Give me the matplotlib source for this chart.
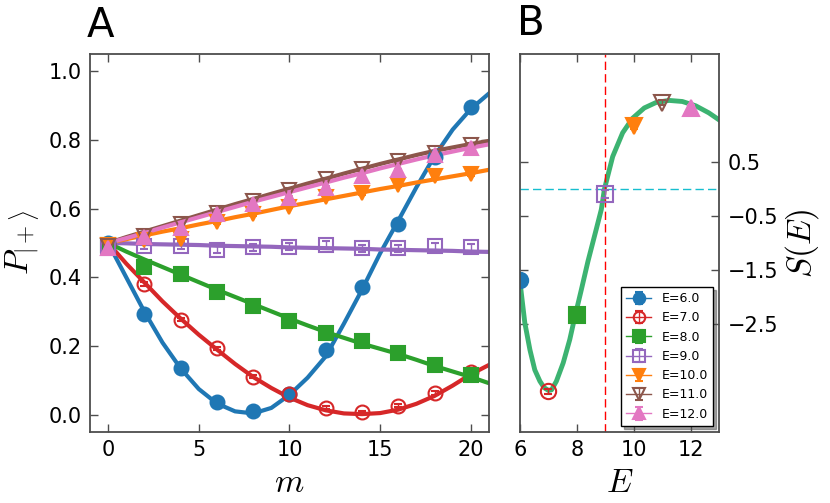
import numpy as np
import matplotlib
matplotlib.use('Agg')
import matplotlib.pyplot as plt

plt.rcParams['mathtext.fontset'] = 'cm'
plt.rcParams['font.family'] = ['DejaVu Sans']

# series settings, one entry per energy
energies = [6.0, 7.0, 8.0, 9.0, 10.0, 11.0, 12.0]
colors = ['#1f77b4', '#d62728', '#2ca02c', '#9467bd', '#ff7f0e', '#8c564b', '#e377c2']
markers = ['o', 'o', 's', 's', 'v', 'v', '^']
filled = [True, False, True, False, True, False, True]

# Panel A: theory curves P(m) read at integer m
m_fine = list(range(22))
curve_6 = [0.50, 0.40, 0.30, 0.21, 0.135, 0.075, 0.033, 0.01, 0.004, 0.02, 0.058,
           0.108, 0.17, 0.265, 0.364, 0.47, 0.565, 0.662, 0.753, 0.83, 0.89, 0.935]
curve_7 = [0.50, 0.44, 0.385, 0.33, 0.28, 0.233, 0.19, 0.148, 0.11, 0.078, 0.05,
           0.028, 0.013, 0.004, 0.002, 0.005, 0.015, 0.032, 0.055, 0.085, 0.118, 0.145]
curve_8 = [0.50, 0.475, 0.452, 0.43, 0.408, 0.386, 0.364, 0.343, 0.322, 0.301, 0.28,
           0.26, 0.241, 0.224, 0.207, 0.192, 0.177, 0.16, 0.142, 0.126, 0.11, 0.092]
curve_9 = [0.500, 0.499, 0.497, 0.496, 0.495, 0.494, 0.492, 0.491, 0.490, 0.489, 0.487,
           0.486, 0.485, 0.484, 0.483, 0.481, 0.480, 0.479, 0.478, 0.477, 0.475, 0.474]
curve_10 = [0.50, 0.511, 0.522, 0.533, 0.543, 0.554, 0.564, 0.575, 0.585, 0.596, 0.607,
            0.617, 0.627, 0.637, 0.647, 0.657, 0.666, 0.676, 0.685, 0.694, 0.703, 0.713]
curve_11 = [0.50, 0.517, 0.533, 0.549, 0.565, 0.581, 0.597, 0.613, 0.628, 0.643, 0.658,
            0.673, 0.687, 0.702, 0.716, 0.73, 0.743, 0.756, 0.768, 0.778, 0.788, 0.797]
curve_12 = [0.50, 0.514, 0.529, 0.545, 0.56, 0.575, 0.59, 0.605, 0.62, 0.634, 0.648,
            0.662, 0.676, 0.69, 0.703, 0.717, 0.73, 0.743, 0.755, 0.766, 0.777, 0.787]

# Panel A: measured points
m_pts = [0, 2, 4, 6, 8, 10, 12, 14, 16, 18, 20]
pts_6 = [0.50, 0.292, 0.135, 0.038, 0.01, 0.061, 0.188, 0.372, 0.555, 0.75, 0.897]
pts_7 = [0.495, 0.381, 0.277, 0.193, 0.111, 0.06, 0.021, 0.007, 0.027, 0.063, 0.125]
pts_8 = [0.495, 0.431, 0.41, 0.357, 0.316, 0.272, 0.239, 0.215, 0.179, 0.145, 0.116]
pts_9 = [0.485, 0.492, 0.492, 0.48, 0.487, 0.489, 0.494, 0.485, 0.485, 0.49, 0.487]
pts_10 = [0.495, 0.508, 0.512, 0.56, 0.584, 0.606, 0.635, 0.645, 0.668, 0.694, 0.70]
pts_11 = [0.49, 0.521, 0.555, 0.588, 0.622, 0.654, 0.685, 0.714, 0.74, 0.762, 0.786]
pts_12 = [0.485, 0.516, 0.545, 0.584, 0.613, 0.632, 0.661, 0.695, 0.711, 0.755, 0.777]
err_small = [0.005, 0.005, 0.005, 0.005, 0.005, 0.005, 0.005, 0.005, 0.005, 0.005, 0.005]
err_9 = [0.01, 0.01, 0.01, 0.01, 0.01, 0.01, 0.012, 0.01, 0.01, 0.01, 0.01]

curves = [curve_6, curve_7, curve_8, curve_9, curve_10, curve_11, curve_12]
points = [pts_6, pts_7, pts_8, pts_9, pts_10, pts_11, pts_12]
errors = [err_small, err_small, err_small, err_9, err_small, err_small, err_small]

# Panel B: S(E) curve and the points
E_curve = [6.0, 6.17, 6.35, 6.52, 6.70, 6.85, 7.0, 7.11, 7.28, 7.52, 7.75, 7.92, 8.16,
           8.39, 8.68, 8.86, 8.97, 9.26, 9.61, 9.96, 10.37, 10.78, 11.24, 11.71,
           12.18, 12.64, 13.0]
S_curve = [-1.72, -2.48, -2.98, -3.35, -3.56, -3.68, -3.73, -3.72, -3.56, -3.22, -2.79,
           -2.39, -1.86, -1.34, -0.75, -0.38, 0.0, 0.60, 1.04, 1.31, 1.50, 1.60, 1.64,
           1.62, 1.54, 1.41, 1.28]
S_pts = [-1.69, -3.75, -2.33, -0.09, 1.16, 1.60, 1.50]
S_err = [0.05, 0.05, 0.05, 0.08, 0.05, 0.05, 0.05]

fig = plt.figure(figsize=(8.3, 5.03), dpi=100)
ax = fig.add_axes([0.1084, 0.1412, 0.4807, 0.7515])
ax2 = fig.add_axes([0.6265, 0.1412, 0.2398, 0.7515])

for c, p, e, col, mk, fl in zip(curves, points, errors, colors, markers, filled):
    ax.plot(m_fine, c, color=col, lw=3)
    ax.errorbar(m_pts, p, yerr=e, fmt=mk, ls='none', ms=10, color=col,
                mfc=col if fl else 'none', mec=col, mew=1.5,
                elinewidth=1, capsize=3)

ax.set_xlim(-1, 21)
ax.set_ylim(-0.05, 1.05)
ax.set_xticks([0, 5, 10, 15, 20])
ax.set_yticks([0.0, 0.2, 0.4, 0.6, 0.8, 1.0])
ax.set_yticklabels(['0.0', '0.2', '0.4', '0.6', '0.8', '1.0'])
ax.set_xlabel('$m$', fontsize=24)
ax.set_ylabel(r'$P_{|+\rangle}$', fontsize=24, labelpad=4)

ax2.plot(E_curve, S_curve, color='#3cb371', lw=3.5)
ax2.axvline(9.0, color='r', ls=(0, (6, 3)), lw=1)
ax2.axhline(0.0, color='#17becf', ls=(0, (6, 3)), lw=1)
for E, s, e, col, mk, fl in zip(energies, S_pts, S_err, colors, markers, filled):
    ax2.errorbar([E], [s], yerr=[e], fmt=mk + '-', lw=1, ms=11, color=col,
                 mfc=col if fl else 'none', mec=col, mew=1.5,
                 elinewidth=1, capsize=3, label='E=%.1f' % E)

ax2.set_xlim(6, 13)
ax2.set_ylim(-4.5, 2.5)
ax2.set_xticks([6, 8, 10, 12])
ax2.set_yticks([-2.5, -1.5, -0.5, 0.5])
ax2.yaxis.tick_right()
ax2.yaxis.set_label_position('right')
ax2.set_xlabel('$E$', fontsize=24)
ax2.set_ylabel('$S(E)$', fontsize=24, labelpad=4)
leg = ax2.legend(loc='lower right', fontsize=9, numpoints=1, markerscale=0.75,
                 fancybox=False, shadow=True, framealpha=1, edgecolor='black',
                 borderaxespad=0.5)
leg.get_frame().set_linewidth(1.0)

for a in (ax, ax2):
    a.tick_params(direction='in', top=True, bottom=True, left=True, right=True,
                  length=6, width=1, labelsize=15, pad=6, colors='0.3',
                  labelcolor='black')
    for sp in a.spines.values():
        sp.set_color('0.3')
        sp.set_linewidth(1.3)

fig.text(87 / 830, 1 - 37 / 503, 'A', fontsize=29, va='baseline')
fig.text(517 / 830, 1 - 35 / 503, 'B', fontsize=29, va='baseline')

fig.savefig('out.png', dpi=100)
